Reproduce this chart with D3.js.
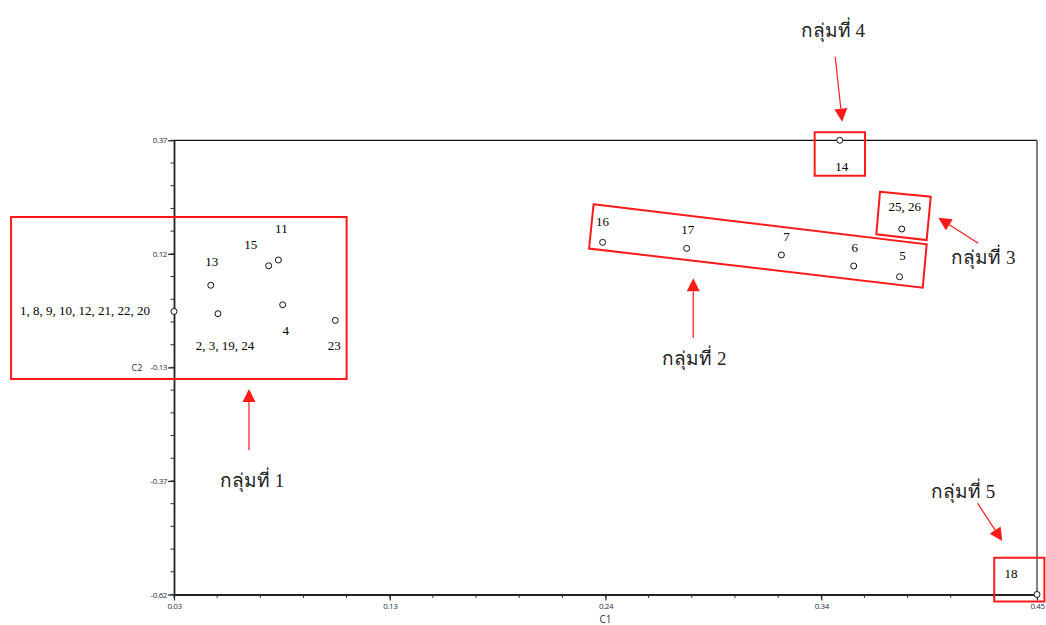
<!DOCTYPE html>
<html>
<head>
<meta charset="utf-8">
<script src="https://cdn.jsdelivr.net/npm/d3@7"></script>
<style>
  html, body { margin: 0; padding: 0; background: #fff; }
  svg { display: block; }
</style>
</head>
<body>
<svg id="chart" width="1046" height="625"></svg>
<script>
// ---- data ----
const pointLabels = ["1, 8, 9, 10, 12, 21, 22, 20", "2, 3, 19, 24", "13", "15", "11", "4", "23",
                     "16", "17", "7", "6", "5", "25, 26", "14", "18"];
const c1 = [0.030, 0.0514, 0.0479, 0.0761, 0.0808, 0.0829, 0.1085,
            0.2386, 0.2795, 0.3256, 0.3608, 0.3831, 0.3842, 0.3540, 0.4500];
const c2 = [-0.003, -0.008, 0.054, 0.0965, 0.109, 0.0115, -0.0225,
            0.1476, 0.1345, 0.120, 0.096, 0.0726, 0.1766, 0.370, -0.620];

const xTickValues = [0.03, 0.135, 0.24, 0.345, 0.45];
const xTickLabels = ["0.03", "0.13", "0.24", "0.34", "0.45"];
const yTickValues = [0.37, 0.1225, -0.125, -0.3725, -0.62];
const yTickLabels = ["0.37", "0.12", "-0.13", "-0.37", "-0.62"];

const groupNames = ["กลุ่มที่ 1", "กลุ่มที่ 2", "กลุ่มที่ 3", "กลุ่มที่ 4", "กลุ่มที่ 5"];
// group outlines (data coordinates)
const groupBoxes = [
  [[-0.0493, 0.2028], [0.1140, 0.2028], [0.1140, -0.1504], [-0.0493, -0.1504]],
  [[0.2342, 0.2305], [0.3963, 0.1433], [0.3944, 0.0487], [0.2320, 0.1341]],
  [[0.3736, 0.2579], [0.3983, 0.2471], [0.3963, 0.1526], [0.3718, 0.1651]],
  [[0.3418, 0.3874], [0.3663, 0.3874], [0.3663, 0.2928], [0.3418, 0.2928]],
  [[0.4292, -0.5400], [0.4536, -0.5400], [0.4536, -0.6350], [0.4292, -0.6350]]
];
// arrows: [tail, tip] (data coordinates)
const groupArrows = [
  [[0.0665, -0.3051], [0.0665, -0.1722]],
  [[0.2827, -0.0610], [0.2827, 0.0692]],
  [[0.4214, 0.1455], [0.4020, 0.2013]],
  [[0.3518, 0.5522], [0.3552, 0.4105]],
  [[0.4211, -0.4213], [0.4331, -0.5035]]
];
const groupLabelPos = [
  [0.0680, -0.3858], [0.2832, -0.1198], [0.4239, 0.0997], [0.3507, 0.5952], [0.4140, -0.4098]
];

// point-label pixel offsets (layout)
const labelOffsets = [
  [-24, 4, "end"], [7, 36, "middle"], [1, -19, "middle"], [-18, -17, "middle"], [3, -27, "middle"],
  [3, 30, "middle"], [-1, 30, "middle"], [0, -16, "middle"], [1, -14, "middle"], [5, -14, "middle"],
  [1, -14, "middle"], [3, -17, "middle"], [3, -18, "middle"], [2, 31, "middle"], [-26, -17, "middle"]
];

// ---- layout ----
const svg = d3.select("#chart");
const x = d3.scaleLinear().domain([0.03, 0.45]).range([174, 1037]);
const y = d3.scaleLinear().domain([-0.62, 0.37]).range([594.5, 140.3]);
const red = "#ff1a1a";
const tickColor = "#2b2f45";

// frame (top & right)
svg.append("line").attr("x1", x(0.03)).attr("x2", x(0.45)).attr("y1", y(0.37)).attr("y2", y(0.37))
  .attr("stroke", "#111").attr("stroke-width", 1.3);
svg.append("line").attr("x1", x(0.45)).attr("x2", x(0.45)).attr("y1", y(0.37)).attr("y2", y(-0.62))
  .attr("stroke", "#555").attr("stroke-width", 1.5);

// minor ticks
const xMinor = d3.range(21).map(i => 0.03 + i * (0.42 / 20));
const yMinor = d3.range(21).map(i => -0.62 + i * (0.99 / 20));
svg.append("g").selectAll("line").data(xMinor).join("line")
  .attr("x1", d => x(d)).attr("x2", d => x(d)).attr("y1", y(-0.62)).attr("y2", y(-0.62) + 3.5)
  .attr("stroke", "#333").attr("stroke-width", 1);
svg.append("g").selectAll("line").data(yMinor).join("line")
  .attr("x1", x(0.03) - 3.5).attr("x2", x(0.03)).attr("y1", d => y(d)).attr("y2", d => y(d))
  .attr("stroke", "#333").attr("stroke-width", 1);

// axes via d3
const xAxis = d3.axisBottom(x).tickValues(xTickValues).tickFormat((d, i) => xTickLabels[i])
  .tickSizeInner(6).tickSizeOuter(0).tickPadding(3);
const yAxis = d3.axisLeft(y).tickValues(yTickValues).tickFormat((d, i) => yTickLabels[i])
  .tickSizeInner(6).tickSizeOuter(0).tickPadding(1);

const gx = svg.append("g").attr("transform", `translate(0,${y(-0.62)})`).call(xAxis);
const gy = svg.append("g").attr("transform", `translate(${x(0.03)},0)`).call(yAxis);
[gx, gy].forEach(g => {
  g.select(".domain").attr("stroke", "#222").attr("stroke-width", 1.8);
  g.selectAll(".tick line").attr("stroke", "#222").attr("stroke-width", 1.2);
  g.selectAll(".tick text").attr("fill", tickColor)
    .style("font-family", "'Open Sans', 'DejaVu Sans', sans-serif").style("font-size", "8px")
    .style("letter-spacing", "-0.4px");
});

// axis titles
svg.append("text").attr("x", x(0.24)).attr("y", 623).attr("text-anchor", "middle")
  .style("font-family", "'Open Sans', sans-serif").style("font-size", "10px").attr("fill", tickColor).text("C1");
svg.append("text").attr("x", 137).attr("y", y(-0.125) + 3.5).attr("text-anchor", "middle")
  .style("font-family", "'Open Sans', sans-serif").style("font-size", "9px").attr("fill", tickColor).text("C2");

// group boxes
const line = d3.line().x(d => x(d[0])).y(d => y(d[1]));
svg.append("g").selectAll("path").data(groupBoxes).join("path")
  .attr("d", d => line(d) + "Z")
  .attr("fill", "none").attr("stroke", red).attr("stroke-width", 2);

// points
const idx = d3.range(c1.length);
svg.append("g").selectAll("circle").data(idx).join("circle")
  .attr("cx", i => x(c1[i])).attr("cy", i => y(c2[i])).attr("r", 3)
  .attr("fill", "#fff").attr("stroke", "#111").attr("stroke-width", 1);

// point labels
svg.append("g").selectAll("text").data(idx).join("text")
  .attr("x", i => x(c1[i]) + labelOffsets[i][0])
  .attr("y", i => y(c2[i]) + labelOffsets[i][1])
  .attr("text-anchor", i => labelOffsets[i][2])
  .style("font-family", "'Liberation Serif', 'Times New Roman', serif").style("font-size", "13px")
  .attr("fill", "#000")
  .text(i => pointLabels[i]);

// arrows
const ag = svg.append("g");
groupArrows.forEach(([t, h]) => {
  const x1 = x(t[0]), y1 = y(t[1]), x2 = x(h[0]), y2 = y(h[1]);
  const ang = Math.atan2(y2 - y1, x2 - x1);
  const L = 13, W = 6.5;
  const bx = x2 - L * Math.cos(ang), by = y2 - L * Math.sin(ang);
  ag.append("line").attr("x1", x1).attr("y1", y1).attr("x2", bx).attr("y2", by)
    .attr("stroke", red).attr("stroke-width", 1.2);
  const px = -Math.sin(ang) * W, py = Math.cos(ang) * W;
  ag.append("path")
    .attr("d", `M${x2},${y2}L${bx + px},${by + py}L${bx - px},${by - py}Z`)
    .attr("fill", red);
});

// group labels
svg.append("g").selectAll("text").data(groupNames).join("text")
  .attr("x", (d, i) => x(groupLabelPos[i][0]))
  .attr("y", (d, i) => y(groupLabelPos[i][1]))
  .attr("text-anchor", "middle")
  .style("font-family", "'Liberation Serif', 'Noto Sans', serif").style("font-size", "19px")
  .attr("fill", "#222")
  .text(d => d);
</script>
</body>
</html>
